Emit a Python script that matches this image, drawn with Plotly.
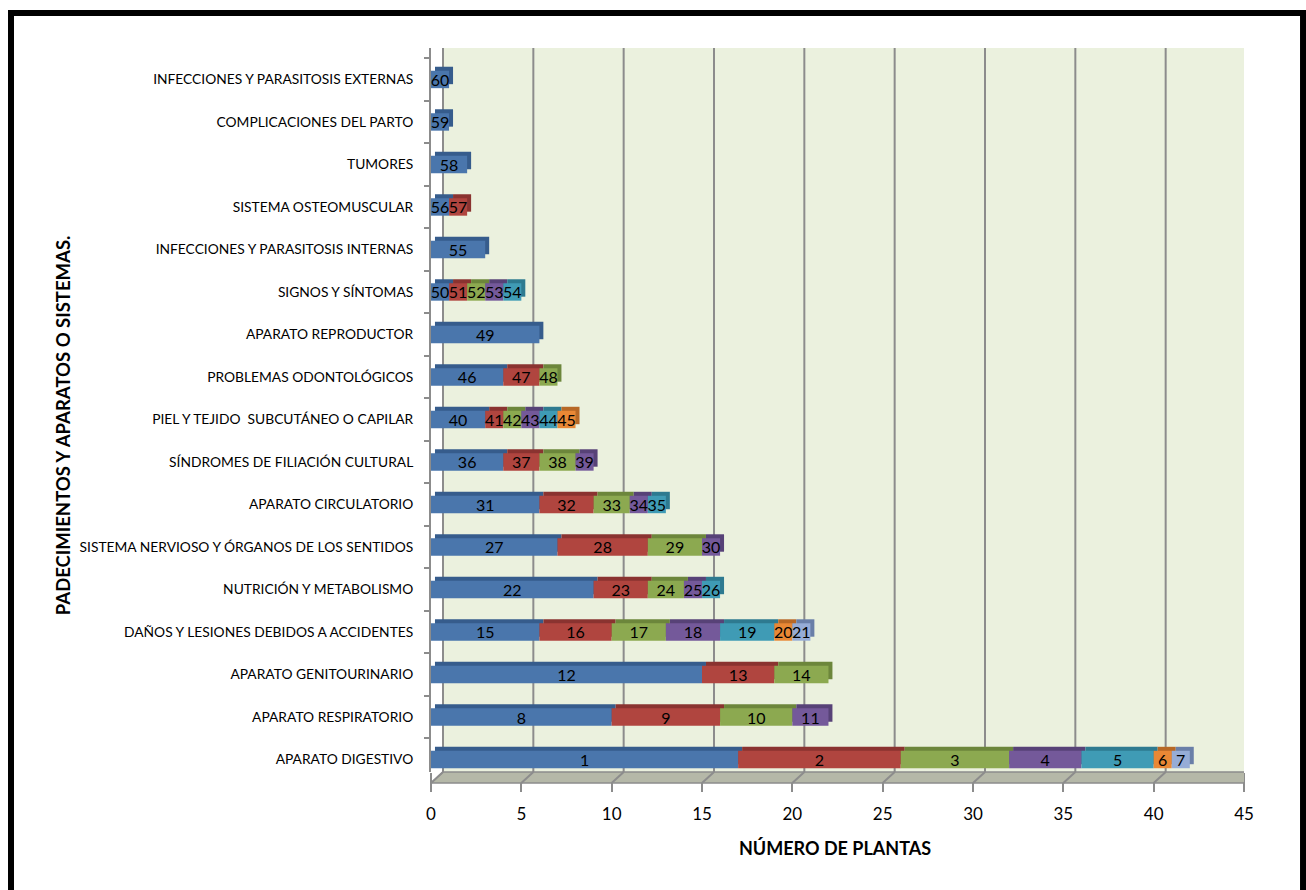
import plotly.graph_objects as go

# ---------------- data ----------------
categories = [
    "APARATO DIGESTIVO",
    "APARATO RESPIRATORIO",
    "APARATO GENITOURINARIO",
    "DAÑOS Y LESIONES DEBIDOS A ACCIDENTES",
    "NUTRICIÓN Y METABOLISMO",
    "SISTEMA NERVIOSO Y ÓRGANOS DE LOS SENTIDOS",
    "APARATO CIRCULATORIO",
    "SÍNDROMES DE FILIACIÓN CULTURAL",
    "PIEL Y TEJIDO  SUBCUTÁNEO O CAPILAR",
    "PROBLEMAS ODONTOLÓGICOS",
    "APARATO REPRODUCTOR",
    "SIGNOS Y SÍNTOMAS",
    "INFECCIONES Y PARASITOSIS INTERNAS",
    "SISTEMA OSTEOMUSCULAR",
    "TUMORES",
    "COMPLICACIONES DEL PARTO",
    "INFECCIONES Y PARASITOSIS EXTERNAS",
]

seg1 = [17, 10, 15, 6, 9, 7, 6, 4, 3, 4, 6, 1, 3, 1, 2, 1, 1]
seg2 = [9, 6, 4, 4, 3, 5, 3, 2, 1, 2, None, 1, None, 1, None, None, None]
seg3 = [6, 4, 3, 3, 2, 3, 2, 2, 1, 1, None, 1, None, None, None, None, None]
seg4 = [4, 2, None, 3, 1, 1, 1, 1, 1, None, None, 1, None, None, None, None, None]
seg5 = [4, None, None, 3, 1, None, 1, None, 1, None, None, 1, None, None, None, None, None]
seg6 = [1, None, None, 1, None, None, None, None, 1, None, None, None, None, None, None, None, None]
seg7 = [1, None, None, 1, None, None, None, None, None, None, None, None, None, None, None, None, None]

lab1 = ["1", "8", "12", "15", "22", "27", "31", "36", "40", "46", "49", "50", "55", "56", "58", "59", "60"]
lab2 = ["2", "9", "13", "16", "23", "28", "32", "37", "41", "47", "", "51", "", "57", "", "", ""]
lab3 = ["3", "10", "14", "17", "24", "29", "33", "38", "42", "48", "", "52", "", "", "", "", ""]
lab4 = ["4", "11", "", "18", "25", "30", "34", "39", "43", "", "", "53", "", "", "", "", ""]
lab5 = ["5", "", "", "19", "26", "", "35", "", "44", "", "", "54", "", "", "", "", ""]
lab6 = ["6", "", "", "20", "", "", "", "", "45", "", "", "", "", "", "", "", ""]
lab7 = ["7", "", "", "21", "", "", "", "", "", "", "", "", "", "", "", "", ""]

x_ticks = [0, 5, 10, 15, 20, 25, 30, 35, 40, 45]

# ---------------- style ----------------
FONT = "Lato"
front_colors = ["#4A76AC", "#B0453F", "#8CA950", "#74599A", "#3F9BB5", "#E98835", "#96ACD6"]
side_colors = ["#365C8C", "#8A3330", "#6C863B", "#574277", "#2E7A90", "#B76826", "#6A7FA8"]
GRID = "#8C8C8C"
WALL = "#EBF1DE"
FLOOR_C = "#B5B8A8"

BAR_W = 0.41      # front face thickness (category units)
SH_X = 0.22       # 3D face shift in x units
SH_Y = 0.094      # 3D face shift in category units
DEPTH_X = 0.664   # wall depth (x units)
FLOOR_Y = -0.0152 # floor depth (paper units)

segs = [seg1, seg2, seg3, seg4, seg5, seg6, seg7]
labs = [lab1, lab2, lab3, lab4, lab5, lab6, lab7]

fig = go.Figure()

# compute stacking bases
bases = []
cum = [0.0] * len(categories)
for s in segs:
    bases.append(list(cum))
    cum = [c + (v if v is not None else 0) for c, v in zip(cum, s)]

# 3D side/top faces (drawn first)
for s, b, sc in zip(segs, bases, side_colors):
    fig.add_trace(go.Bar(
        y=categories, x=s, base=[bb + SH_X for bb in b], orientation="h",
        width=BAR_W, offset=-BAR_W / 2 + SH_Y,
        marker=dict(color=sc, line=dict(width=0)),
        hoverinfo="skip", showlegend=False,
    ))

# front faces with labels
for s, b, lb, fc in zip(segs, bases, labs, front_colors):
    fig.add_trace(go.Bar(
        y=categories, x=s, base=b, orientation="h",
        width=BAR_W, offset=-BAR_W / 2,
        marker=dict(color=fc, line=dict(width=0)),
        text=lb, textposition="inside", insidetextanchor="middle",
        textangle=0, constraintext="none",
        textfont=dict(family=FONT, size=16, color="black"),
        showlegend=False,
    ))

shapes = []
# back wall
shapes.append(dict(type="rect", xref="x", yref="paper", x0=DEPTH_X, x1=45 + DEPTH_X,
                   y0=0, y1=1, fillcolor=WALL, line=dict(width=0), layer="below"))
# back-wall gridlines
for t in x_ticks:
    shapes.append(dict(type="line", xref="x", yref="paper", x0=t + DEPTH_X, x1=t + DEPTH_X,
                       y0=0, y1=1, line=dict(color=GRID, width=2), layer="below"))
# floor
shapes.append(dict(type="path", xref="x", yref="paper",
                   path=f"M {DEPTH_X},0 L {45 + DEPTH_X},0 L 45,{FLOOR_Y} L 0,{FLOOR_Y} Z",
                   fillcolor=FLOOR_C, line=dict(color=GRID, width=1.5), layer="above"))
for t in x_ticks:
    shapes.append(dict(type="line", xref="x", yref="paper", x0=t + DEPTH_X, y0=0, x1=t, y1=FLOOR_Y,
                       line=dict(color=GRID, width=2), layer="above"))
# black frame (top, left, right)
shapes.append(dict(type="line", xref="paper", yref="paper", x0=-0.5166, x1=1.0763, y0=1.0483, y1=1.0483,
                   line=dict(color="black", width=6)))
shapes.append(dict(type="line", xref="paper", yref="paper", x0=-0.5166, x1=-0.5166, y0=1.0525, y1=-0.2,
                   line=dict(color="black", width=6)))
shapes.append(dict(type="line", xref="paper", yref="paper", x0=1.0726, x1=1.0726, y0=1.0525, y1=-0.2,
                   line=dict(color="black", width=6)))

fig.update_layout(
    width=1306, height=890,
    margin=dict(l=431, r=62, t=48, b=118),
    paper_bgcolor="white", plot_bgcolor="rgba(0,0,0,0)",
    barmode="overlay",
    font=dict(family=FONT, color="black"),
    shapes=shapes,
    xaxis=dict(range=[0, 45], tickvals=x_ticks, showgrid=False, zeroline=False,
               showline=False, ticks="outside", ticklen=19, tickwidth=2, tickcolor=GRID,
               tickfont=dict(family=FONT, size=17, color="black"), ticklabelstandoff=8),
    yaxis=dict(type="category", range=[-0.294, 16.74], showgrid=False, zeroline=False,
               showline=True, linecolor=GRID, linewidth=2,
               ticks="outside", tickson="boundaries", ticklen=5, tickcolor=GRID, tickwidth=1.5,
               tickfont=dict(family=FONT, size=13.8, color="black"), ticklabelstandoff=13),
    annotations=[
        dict(text="<b>NÚMERO DE PLANTAS</b>", xref="paper", yref="paper", x=0.4975, y=-0.105,
             showarrow=False, font=dict(family=FONT, size=18, color="black"),
             xanchor="center", yanchor="middle"),
        dict(text="<b>PADECIMIENTOS Y APARATOS O SISTEMAS.</b>", xref="paper", yref="paper",
             x=-0.4526, y=0.479, textangle=-90, showarrow=False,
             font=dict(family=FONT, size=18.5, color="black"), xanchor="center", yanchor="middle"),
    ],
)

fig.write_html("out.html", config={"displayModeBar": False},
               post_script="document.body.style.margin='0';")
